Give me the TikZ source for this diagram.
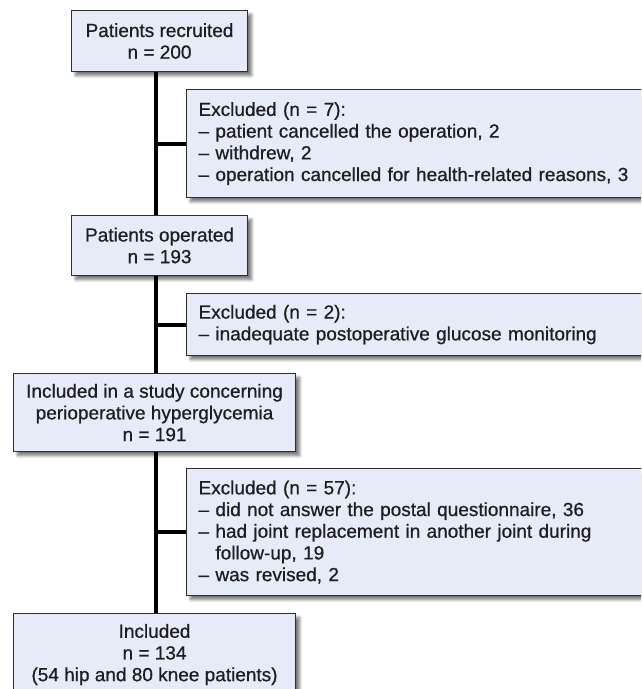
\documentclass[tikz,border=0pt]{standalone}
\usepackage{fontspec}
\setmainfont{Liberation Sans}[FakeBold=0.7]
\usetikzlibrary{shadows.blur}
\definecolor{boxfill}{HTML}{E5ECF7}
\definecolor{boxline}{HTML}{2E2E2E}
\definecolor{txt}{HTML}{1E1E1E}
\begin{document}
\begin{tikzpicture}[x=1pt,y=-1pt,
  every node/.style={font=\fontsize{19}{21.7}\selectfont, text=txt},
  boxbase/.style={draw=boxline, line width=1.1pt, fill=boxfill,
    blur shadow={shadow xshift=4pt, shadow yshift=-4pt, shadow blur steps=6, shadow blur radius=3pt, shadow opacity=55}},
  mainbox/.style={boxbase, align=center, inner sep=0pt},
  exbox/.style={boxbase, anchor=north west, minimum width=470pt, text width=446pt, inner xsep=12pt, inner ysep=0pt, align=left},
  spineline/.style={line width=4pt, black}
]
\useasboundingbox (0,0) rectangle (641,689);
\clip (0,0) rectangle (641,689);
\coordinate (spine) at (156,0);

\node[mainbox, anchor=north west, minimum width=176pt, minimum height=61pt] (b1) at (71,10)
  {Patients recruited\\n = 200};
\node[exbox, minimum height=108pt] (e1) at (186,89)
  {Excluded (n = 7):\\– patient cancelled the operation, 2\\– withdrew, 2\\– operation cancelled for health-related reasons, 3};
\node[mainbox, anchor=north west, minimum width=176pt, minimum height=60pt] (b2) at (71,215)
  {Patients operated\\n = 193};
\node[exbox, minimum height=62pt] (e2) at (186,293)
  {Excluded (n = 2):\\– inadequate postoperative glucose monitoring};
\node[mainbox, anchor=north west, minimum width=282pt, minimum height=78pt] (b3) at (13,373)
  {Included in a study concerning\\perioperative hyperglycemia\\n = 191};
\node[exbox, minimum height=127pt] (e3) at (186,468)
  {Excluded (n = 57):\\– did not answer the postal questionnaire, 36\\– had joint replacement in another joint during\\\phantom{– }follow-up, 19\\– was revised, 2};
\node[mainbox, anchor=north west, minimum width=282pt, minimum height=82pt] (b4) at (13,613)
  {Included\\n = 134\\(54 hip and 80 knee patients)};

\draw[spineline] (b1.south -| spine) -- (b2.north -| spine);
\draw[spineline] (b2.south -| spine) -- (b3.north -| spine);
\draw[spineline] (b3.south -| spine) -- (b4.north -| spine);
\draw[spineline] (spine |- e1.west) -- (e1.west);
\draw[spineline] (spine |- e2.west) -- (e2.west);
\draw[spineline] (spine |- e3.west) -- (e3.west);
\end{tikzpicture}
\end{document}
